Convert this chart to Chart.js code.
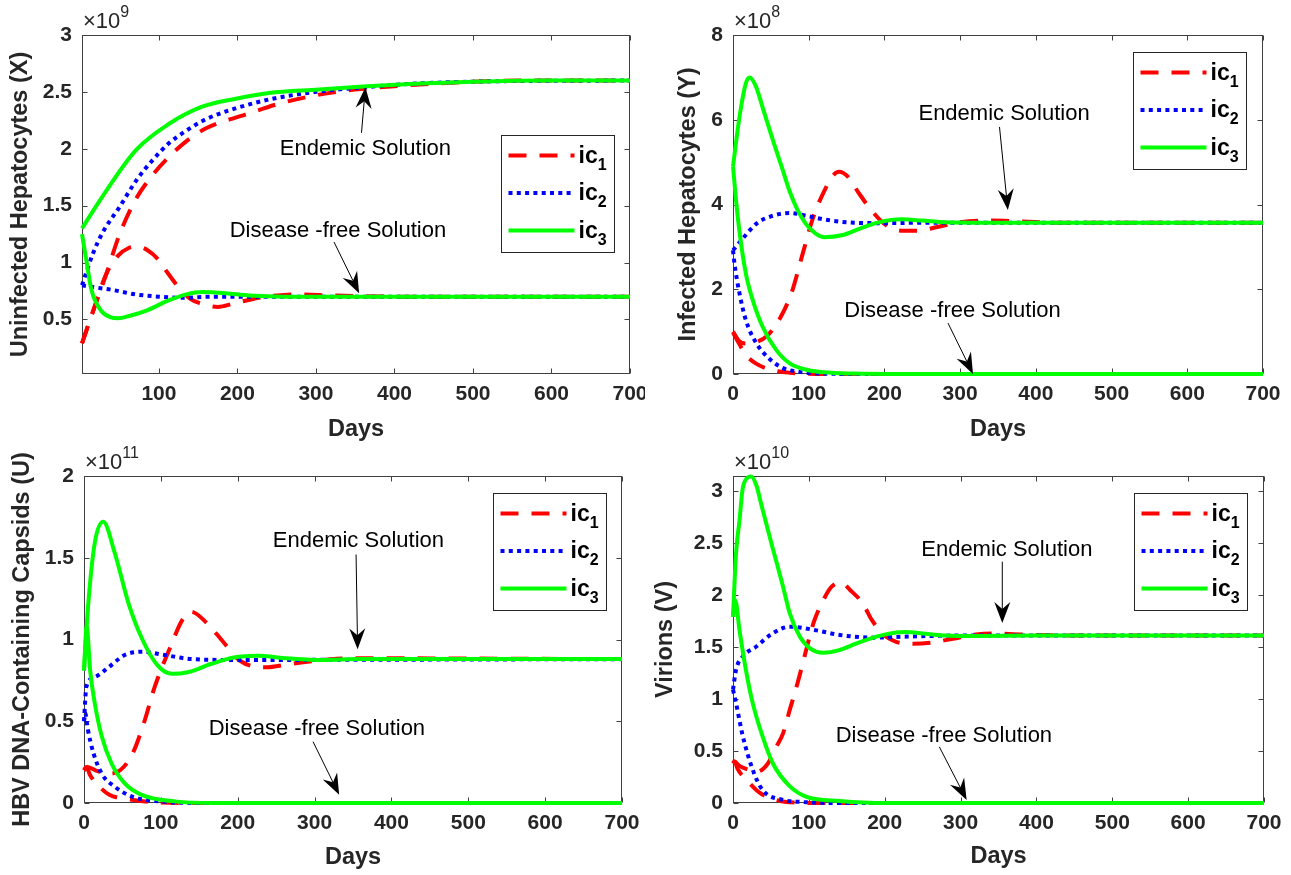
<!DOCTYPE html>
<html>
<head>
<meta charset="utf-8">
<script src="https://cdn.jsdelivr.net/npm/chart.js@4.4.1/dist/chart.umd.min.js"></script>
<style>
  html, body { margin: 0; padding: 0; background: #fff; }
  #wrap { position: relative; width: 1291px; height: 875px; overflow: hidden; }
  #wrap canvas { position: absolute; }
</style>
</head>
<body>
<div id="wrap">
  <canvas id="cX"></canvas>
  <canvas id="cY"></canvas>
  <canvas id="cU"></canvas>
  <canvas id="cV"></canvas>
</div>
<script>
// HBV model - endemic vs disease-free solutions for three initial conditions
// values are in units of each panel's x10^n multiplier, [day, value]

const icNames = ['ic1', 'ic2', 'ic3'];
const dayTicks = [0, 100, 200, 300, 400, 500, 600, 700];
const X_ticks = [0.5, 1, 1.5, 2, 2.5, 3];
const Y_ticks = [0, 2, 4, 6, 8];
const U_ticks = [0, 0.5, 1, 1.5, 2];
const V_ticks = [0, 0.5, 1, 1.5, 2, 2.5, 3];

// --- Uninfected hepatocytes X (x10^9)
const X_end_ic1 = [[2,0.29],[15,0.55],[33,0.9],[50,1.25],[70,1.55],[92,1.77],[113,1.93],[132,2.05],[160,2.18],[210,2.3],[255,2.4],[300,2.47],[350,2.52],[400,2.55],[470,2.58],[560,2.6],[700,2.6]];
const X_end_ic2 = [[2,0.8],[16,1.08],[28,1.26],[50,1.49],[71,1.72],[92,1.9],[113,2.05],[135,2.16],[160,2.26],[200,2.36],[245,2.44],[300,2.5],[360,2.54],[420,2.57],[500,2.59],[700,2.6]];
const X_end_ic3 = [[2,1.3],[28,1.58],[71,1.99],[113,2.22],[155,2.37],[198,2.44],[240,2.49],[304,2.52],[365,2.55],[420,2.57],[500,2.59],[600,2.6],[700,2.6]];
const X_dfs_ic1 = [[2,0.29],[15,0.55],[33,0.9],[48,1.06],[62,1.13],[72,1.14],[85,1.11],[100,1.02],[110,0.92],[123,0.8],[140,0.68],[153,0.64],[175,0.61],[195,0.64],[220,0.68],[250,0.71],[280,0.72],[320,0.71],[400,0.7],[700,0.7]];
const X_dfs_ic2 = [[2,0.8],[20,0.78],[40,0.76],[70,0.72],[100,0.7],[130,0.69],[170,0.7],[700,0.7]];
const X_dfs_ic3 = [[2,1.25],[8,1.0],[14,0.76],[26,0.58],[38,0.52],[48,0.51],[62,0.53],[85,0.58],[110,0.66],[135,0.72],[155,0.74],[185,0.73],[215,0.71],[260,0.7],[700,0.7]];

// --- Infected hepatocytes Y (x10^8)
const Y_end_ic1 = [[0,1.0],[8,0.78],[18,0.72],[32,0.76],[45,0.9],[60,1.25],[77,1.9],[93,2.9],[106,3.7],[120,4.3],[133,4.7],[140,4.77],[152,4.65],[165,4.3],[183,3.86],[203,3.5],[225,3.38],[245,3.38],[270,3.47],[300,3.58],[340,3.62],[380,3.6],[430,3.57],[700,3.57]];
const Y_end_ic2 = [[0,2.92],[13,3.2],[31,3.55],[50,3.72],[75,3.8],[100,3.72],[130,3.62],[160,3.57],[200,3.56],[250,3.57],[700,3.57]];
const Y_end_ic3 = [[0,4.9],[8.6,6.07],[17,6.86],[22,7.0],[30,6.8],[39,6.3],[53,5.5],[65,4.85],[75,4.3],[85,3.88],[96,3.55],[108,3.33],[120,3.23],[145,3.28],[170,3.45],[195,3.59],[222,3.65],[250,3.62],[280,3.58],[330,3.57],[700,3.57]];
const Y_dfs_ic1 = [[0,0.98],[8,0.72],[17,0.45],[30,0.25],[50,0.1],[75,0.03],[120,0],[700,0]];
const Y_dfs_ic2 = [[0,2.92],[2,2.6],[8.6,1.9],[17,1.27],[30,0.75],[48,0.36],[66,0.14],[88,0.05],[120,0.01],[180,0],[700,0]];
const Y_dfs_ic3 = [[0,4.9],[4,4.1],[9,3.3],[17,2.37],[26,1.75],[39,1.12],[57,0.57],[75,0.25],[97,0.1],[120,0.04],[160,0.01],[220,0],[700,0]];

// --- HBV DNA-containing capsids U (x10^11)
const U_end_ic1 = [[0,0.2],[4,0.22],[15,0.2],[31,0.18],[47,0.2],[63,0.3],[78,0.49],[92,0.71],[112,0.95],[128,1.12],[139,1.17],[160,1.1],[182,0.98],[203,0.87],[236,0.83],[268,0.85],[322,0.88],[360,0.885],[700,0.88]];
const U_end_ic2 = [[0,0.5],[3,0.71],[14,0.77],[32,0.83],[53,0.905],[75,0.925],[105,0.905],[140,0.88],[190,0.875],[700,0.88]];
const U_end_ic3 = [[0,0.81],[5.6,1.22],[14,1.59],[25,1.72],[40,1.53],[58,1.22],[76,1.0],[96,0.84],[115,0.79],[135,0.8],[165,0.85],[195,0.89],[225,0.9],[265,0.885],[310,0.875],[360,0.88],[700,0.88]];
const U_dfs_ic1 = [[0,0.2],[3,0.22],[8,0.17],[20,0.1],[33,0.05],[55,0.025],[90,0.005],[130,0],[700,0]];
const U_dfs_ic2 = [[0,0.5],[1.5,0.55],[5,0.45],[12,0.31],[23,0.18],[40,0.1],[62,0.04],[97,0.01],[150,0],[700,0]];
const U_dfs_ic3 = [[0,0.81],[3.5,1.08],[8,0.81],[14,0.61],[23,0.41],[36,0.24],[53,0.12],[75,0.05],[118,0.01],[170,0],[700,0]];

// --- Virions V (x10^10)
const V_end_ic1 = [[0,0.38],[2,0.4],[8,0.36],[20,0.32],[31,0.3],[46,0.38],[57,0.54],[66,0.67],[75,0.9],[85,1.15],[94,1.4],[101,1.6],[107,1.75],[119,1.95],[130,2.08],[143,2.12],[154,2.05],[171,1.92],[183,1.76],[198,1.62],[215,1.55],[237,1.53],[260,1.54],[290,1.58],[320,1.62],[340,1.63],[380,1.62],[450,1.61],[700,1.61]];
const V_end_ic2 = [[0,1.09],[4,1.28],[13,1.41],[30,1.5],[52,1.63],[75,1.695],[110,1.66],[141,1.615],[185,1.59],[230,1.6],[300,1.61],[700,1.61]];
const V_end_ic3 = [[0,1.79],[4,2.4],[8.6,2.72],[12.5,3.01],[18,3.12],[24,3.14],[31,3.05],[38,2.85],[52,2.46],[66,2.08],[75,1.82],[88,1.6],[101,1.49],[119,1.445],[140,1.47],[163,1.535],[189,1.6],[215,1.64],[228,1.645],[250,1.63],[280,1.61],[320,1.605],[400,1.61],[700,1.61]];
const V_dfs_ic1 = [[0,0.38],[2,0.4],[6,0.33],[22,0.19],[35,0.1],[52,0.04],[70,0.01],[110,0],[700,0]];
const V_dfs_ic2 = [[0,1.09],[4,0.96],[13,0.64],[26,0.32],[39,0.125],[66,0.03],[90,0.01],[140,0],[700,0]];
const V_dfs_ic3 = [[0,1.79],[3,1.95],[8.6,1.66],[17,1.28],[26,0.96],[39,0.64],[52.6,0.38],[75,0.16],[97,0.06],[141,0.02],[200,0],[700,0]];

// annotation anchors in data units: [text centre], [arrow tail], [arrow tip]
const X_notes = [
  { text: 'Endemic Solution', at: [363, 2.0], from: [358, 2.14], to: [363, 2.54] },
  { text: 'Disease -free Solution', at: [328, 1.28], from: [323, 1.18], to: [355, 0.73] }
];
const Y_notes = [
  { text: 'Endemic Solution', at: [358, 6.13], from: [352, 5.83], to: [363, 3.87] },
  { text: 'Disease -free Solution', at: [290, 1.49], from: [284, 1.2], to: [317, 0] }
];
const U_notes = [
  { text: 'Endemic Solution', at: [357, 1.6], from: [354, 1.52], to: [356, 0.94] },
  { text: 'Disease -free Solution', at: [303, 0.45], from: [298, 0.375], to: [332, 0.05] }
];
const V_notes = [
  { text: 'Endemic Solution', at: [361, 2.43], from: [355, 2.32], to: [355, 1.73] },
  { text: 'Disease -free Solution', at: [278, 0.64], from: [272, 0.54], to: [308, 0.03] }
];

const FONT = "'Liberation Sans', Arial, Helvetica, sans-serif";
const INK = '#262626';
const TICK = 5;

const lineStyles = {
  ic1: { color: '#ff0000', dash: [18, 13], width: 4 },
  ic2: { color: '#0000ff', dash: [4, 4.3], width: 4 },
  ic3: { color: '#00ff00', dash: [], width: 4 }
};

// canvas box [left, top, w, h], plot area [l, t, r, b] inside canvas
const panels = [
  { id: 'cX', box: [0, 0, 645, 450], area: [82, 35, 630, 374], yTitle: 'Uninfected Hepatocytes (X)',
    exp: '9', xMin: 2, yMin: 0.02, yMax: 3, yTicks: X_ticks, yTitleX: 20.5, xTitleY: 430, leg: [16, 100],
    series: [X_end_ic3, X_dfs_ic3, X_end_ic2, X_dfs_ic2, X_end_ic1, X_dfs_ic1], notes: X_notes },
  { id: 'cY', box: [645, 0, 646, 450], area: [88, 35, 618, 374], yTitle: 'Infected Hepatocytes (Y)',
    exp: '8', xMin: 0, yMin: 0, yMax: 8, yTicks: Y_ticks, yTitleX: 44, xTitleY: 430, leg: [17, 17],
    series: [Y_end_ic3, Y_dfs_ic3, Y_end_ic2, Y_dfs_ic2, Y_end_ic1, Y_dfs_ic1], notes: Y_notes },
  { id: 'cU', box: [0, 440, 645, 435], area: [84, 36, 622, 363], yTitle: 'HBV DNA-Containing Capsids (U)',
    exp: '11', xMin: 0, yMin: 0, yMax: 2, yTicks: U_ticks, yTitleX: 23, xTitleY: 418, leg: [16, 17],
    series: [U_end_ic3, U_dfs_ic3, U_end_ic2, U_dfs_ic2, U_end_ic1, U_dfs_ic1], notes: U_notes },
  { id: 'cV', box: [645, 440, 646, 435], area: [88, 36, 619, 363], yTitle: 'Virions (V)',
    exp: '10', xMin: 0, yMin: 0, yMax: 3.144, yTicks: V_ticks, yTitleX: 20.6, xTitleY: 417, leg: [17, 17],
    series: [V_end_ic3, V_dfs_ic3, V_end_ic2, V_dfs_ic2, V_end_ic1, V_dfs_ic1], notes: V_notes }
];
const seriesIc = ['ic3', 'ic3', 'ic2', 'ic2', 'ic1', 'ic1'];

function drawArrow(ctx, x0, y0, x1, y1) {
  const ang = Math.atan2(y1 - y0, x1 - x0);
  const len = 21, half = 8, notch = 14;
  const c = Math.cos(ang), s = Math.sin(ang);
  ctx.beginPath();
  ctx.moveTo(x0, y0);
  ctx.lineTo(x1 - c * notch, y1 - s * notch);
  ctx.stroke();
  ctx.beginPath();
  ctx.moveTo(x1, y1);
  ctx.lineTo(x1 - c * len - s * half, y1 - s * len + c * half);
  ctx.lineTo(x1 - c * notch, y1 - s * notch);
  ctx.lineTo(x1 - c * len + s * half, y1 - s * len - c * half);
  ctx.closePath();
  ctx.fill();
}

const matlabLook = {
  id: 'matlabLook',
  beforeDatasetsDraw(chart, args, opts) {
    const { ctx, chartArea: a, scales: { x, y } } = chart;
    const L = Math.round(a.left) + 0.5, T = Math.round(a.top) + 0.5;
    const R = Math.round(a.right) - 0.5, B = Math.round(a.bottom) - 0.5;
    ctx.save();
    ctx.strokeStyle = '#404040';
    ctx.lineWidth = 1;
    ctx.strokeRect(L, T, R - L, B - T);
    ctx.beginPath();
    x.ticks.forEach(t => {
      const px = Math.round(x.getPixelForValue(t.value)) + 0.5;
      ctx.moveTo(px, B); ctx.lineTo(px, B - TICK);
      ctx.moveTo(px, T); ctx.lineTo(px, T + TICK);
    });
    y.ticks.forEach(t => {
      const py = Math.round(y.getPixelForValue(t.value)) + 0.5;
      ctx.moveTo(L, py); ctx.lineTo(L + TICK, py);
      ctx.moveTo(R, py); ctx.lineTo(R - TICK, py);
    });
    ctx.stroke();
    ctx.restore();
  },
  afterDatasetsDraw(chart, args, opts) {
    const { ctx, chartArea: a, scales: { x, y } } = chart;
    const p = opts.panel;
    ctx.save();
    // annotations
    ctx.fillStyle = '#000';
    ctx.strokeStyle = '#000';
    ctx.lineWidth = 1;
    ctx.font = '22px ' + FONT;
    ctx.textAlign = 'center';
    ctx.textBaseline = 'middle';
    p.notes.forEach(n => {
      ctx.fillText(n.text, x.getPixelForValue(n.at[0]), y.getPixelForValue(n.at[1]));
      drawArrow(ctx, x.getPixelForValue(n.from[0]), y.getPixelForValue(n.from[1]),
        x.getPixelForValue(n.to[0]), y.getPixelForValue(n.to[1]));
    });
    // legend
    const W = 113, H = 117;
    const bx = Math.round(a.right - p.leg[0] - W) + 0.5, by = Math.round(a.top + p.leg[1]) + 0.5;
    ctx.fillStyle = '#fff';
    ctx.fillRect(bx, by, W, H);
    ctx.strokeStyle = '#262626';
    ctx.strokeRect(bx, by, W, H);
    icNames.forEach((name, i) => {
      const st = lineStyles[name];
      const ly = by + 20 + i * 37.5;
      ctx.strokeStyle = st.color;
      ctx.lineWidth = st.width;
      ctx.setLineDash(st.dash);
      ctx.beginPath();
      ctx.moveTo(bx + 7, ly);
      ctx.lineTo(bx + 73, ly);
      ctx.stroke();
      ctx.setLineDash([]);
      ctx.fillStyle = '#000';
      ctx.textAlign = 'left';
      ctx.textBaseline = 'alphabetic';
      ctx.font = 'bold 23px ' + FONT;
      const base = name.slice(0, 2), sub = name.slice(2);
      ctx.fillText(base, bx + 77, ly + 7);
      const w = ctx.measureText(base).width;
      ctx.font = 'bold 16px ' + FONT;
      ctx.fillText(sub, bx + 77 + w, ly + 14);
    });
    ctx.restore();
  },
  afterDraw(chart, args, opts) {
    const { ctx, chartArea: a } = chart;
    const p = opts.panel;
    ctx.save();
    ctx.fillStyle = INK;
    ctx.textAlign = 'left';
    ctx.textBaseline = 'alphabetic';
    ctx.font = '22px ' + FONT;
    ctx.fillText('\u00d710', a.left + 1, a.top - 7);
    const w = ctx.measureText('\u00d710').width;
    ctx.font = '16px ' + FONT;
    ctx.fillText(p.exp, a.left + 1 + w, a.top - 18);
    ctx.restore();
  }
};

const tickFmt = v => String(+(+v).toFixed(3));

panels.forEach(p => {
  const cv = document.getElementById(p.id);
  const [bl, bt, bw, bh] = p.box;
  const [al, at, ar, ab] = p.area;
  cv.width = bw; cv.height = bh;
  cv.style.left = bl + 'px'; cv.style.top = bt + 'px';
  cv.style.width = bw + 'px'; cv.style.height = bh + 'px';

  const datasets = p.series.map((s, i) => {
    const st = lineStyles[seriesIc[i]];
    return {
      label: seriesIc[i],
      data: s.map(d => ({ x: d[0], y: d[1] })),
      borderColor: st.color,
      borderWidth: st.width,
      borderDash: st.dash,
      pointRadius: 0,
      fill: false,
      cubicInterpolationMode: 'monotone',
      clip: false
    };
  });

  const titleLh = 23.5 * 1.2;
  new Chart(cv, {
    type: 'line',
    data: { datasets },
    plugins: [matlabLook],
    options: {
      responsive: false,
      animation: false,
      devicePixelRatio: 1,
      layout: { padding: { left: 0, top: at, right: bw - ar, bottom: 0 } },
      plugins: {
        legend: { display: false },
        tooltip: { enabled: false },
        matlabLook: { panel: p }
      },
      scales: {
        x: {
          type: 'linear',
          min: p.xMin, max: 700,
          grid: { display: false, drawTicks: false },
          border: { display: false },
          afterBuildTicks: s => {
            s.ticks = dayTicks.filter(v => v >= p.xMin).map(v => ({ value: v }));
          },
          ticks: {
            autoSkip: false, maxRotation: 0,
            padding: 8, color: INK, font: { family: FONT, size: 21, weight: 'bold' },
            callback: tickFmt
          },
          title: {
            display: true, text: 'Days', color: INK,
            font: { family: FONT, size: 23.5, weight: 'bold' },
            padding: { top: 0, bottom: bh - p.xTitleY - titleLh / 2 }
          },
          afterFit: s => { s.height = bh - ab; s.paddingLeft = 0; s.paddingRight = 0; }
        },
        y: {
          type: 'linear',
          min: p.yMin, max: p.yMax,
          grid: { display: false, drawTicks: false },
          border: { display: false },
          afterBuildTicks: s => {
            s.ticks = p.yTicks.map(v => ({ value: v }));
          },
          ticks: {
            autoSkip: false,
            padding: 10, color: INK, font: { family: FONT, size: 21, weight: 'bold' },
            callback: tickFmt
          },
          title: {
            display: true, text: p.yTitle, color: INK,
            font: { family: FONT, size: 23.5, weight: 'bold' },
            padding: { top: p.yTitleX - titleLh / 2, bottom: 0 }
          },
          afterFit: s => { s.width = al; s.paddingTop = 0; s.paddingBottom = 0; }
        }
      }
    }
  });
});
</script>
</body>
</html>
